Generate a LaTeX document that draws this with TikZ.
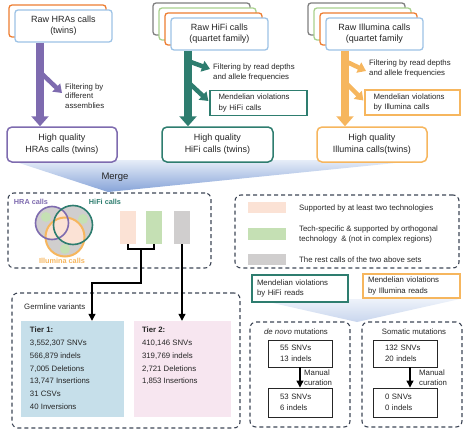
\documentclass[tikz,border=0pt]{standalone}
\usepackage{fontspec}
\setmainfont{Liberation Sans}
\usetikzlibrary{arrows.meta,calc}
\definecolor{cBlue}{HTML}{9DC3E6}
\definecolor{cOrange}{HTML}{ED7D31}
\definecolor{cGreen}{HTML}{A9D18E}
\definecolor{cGray}{HTML}{7F7F7F}
\definecolor{cPurple}{HTML}{7E6BAF}
\definecolor{cTeal}{HTML}{2E7D6F}
\definecolor{cLOrange}{HTML}{F6B65E}
\definecolor{cPeach}{HTML}{FBE2D5}
\definecolor{cLGreen}{HTML}{C5E0B4}
\definecolor{cLGray}{HTML}{D0CECE}
\definecolor{cTier1}{HTML}{C6DFEA}
\definecolor{cTier2}{HTML}{F7E6F0}
\definecolor{cDash}{HTML}{3E4656}
\definecolor{cMergeTop}{HTML}{E6EDF8}
\definecolor{cMergeBot}{HTML}{86A3D8}
\definecolor{cText}{HTML}{262626}
\newcommand\fsz[2]{\fontsize{#1}{#2}\selectfont}
\begin{document}
\begin{tikzpicture}[x=1pt,y=-1pt,
  every node/.style={text=cText},
  backbox/.style={draw=#1, line width=1.3pt, fill=white, rounded corners=3pt, minimum width=97pt, minimum height=32pt, inner sep=0pt},
  rawbox/.style={draw=cBlue, line width=1.3pt, fill=white, rounded corners=3pt, minimum width=97pt, minimum height=32pt, inner sep=0pt, align=center, font=\fsz{9}{10.5}},
  hqbox/.style={draw=#1, line width=1.5pt, fill=white, rounded corners=5pt, minimum width=110pt, minimum height=35pt, inner sep=0pt, align=center, font=\fsz{9}{12}},
  mvbox/.style={draw=#1, line width=1.2pt, fill=white, minimum height=25pt, inner ysep=0pt, align=left, font=\fsz{7.8}{10.5}},
  small/.style={font=\fsz{7.8}{10}, align=left, inner sep=0pt},
  trunk/.style={draw=#1, line width=8pt, -{Triangle[width=17pt,length=10pt]}},
  branch/.style={draw=#1, line width=4.5pt, -{Triangle[width=11pt,length=8pt]}},
  dbox/.style={draw=cDash, line width=1.1pt, dash pattern=on 4pt off 3pt, rounded corners=6pt, inner sep=0pt},
  bar/.style={minimum width=16pt, minimum height=33pt, inner sep=0pt},
  swatch/.style={minimum width=38pt, minimum height=11pt, inner sep=0pt},
  conn/.style={draw=black, line width=1.2pt},
  connarrow/.style={draw=black, line width=1.2pt, -{Triangle[width=7pt,length=7pt]}},
  mbox/.style={draw=cText, line width=0.9pt, fill=white, minimum width=64pt, minimum height=27pt, inner xsep=12pt, text width=40pt, align=left, font=\fsz{7.8}{10.5}},
  venlab/.style={font=\fsz{7.3}{8}\bfseries, inner sep=0pt}
]
\useasboundingbox (0,0) rectangle (469,434);

% ---- merge funnel ----
\shade[top color=cMergeTop, bottom color=cMergeBot] (10,160) -- (425,160) -- (108,192) -- cycle;
\node[font=\fsz{9.5}{11}, inner sep=0pt] (merge) at (115,177) {Merge};

% ---- HRA column ----
\node[backbox=cOrange] (hraB1) at (57.5,21) {};
\node[rawbox] (hraRaw) at (63.5,26) {\raisebox{-1.5pt}{\begin{tabular}{@{}c@{}}Raw HRAs calls\\(twins)\end{tabular}}};
\node[hqbox=cPurple] (hraHQ) at (62,144.5) {High quality\\HRAs calls (twins)};
\draw[trunk=cPurple] (hraRaw.south -| 40,0) -- (hraHQ.north -| 40,0);
\coordinate (hraBr) at (40,72);
\coordinate (hraBrEnd) at (62,93);
\draw[branch=cPurple] (hraBr) -- (hraBrEnd);
\node[small, anchor=west, font=\fsz{7.8}{9.5}] (hraFilt) at (65,96) {Filtering by\\different\\assemblies};

% ---- HiFi column ----
\node[backbox=cGray] (hifiB3) at (201.5,19) {};
\node[backbox=cGreen] (hifiB2) at (207.5,24) {};
\node[backbox=cOrange] (hifiB1) at (213.5,29) {};
\node[rawbox] (hifiRaw) at (219.5,34) {\raisebox{-2.5pt}{\begin{tabular}{@{}c@{}}Raw HiFi calls\\(quartet family)\end{tabular}}};
\node[hqbox=cTeal, minimum width=111pt] (hifiHQ) at (217.5,144.5) {High quality\\HiFi calls (twins)};
\node[mvbox=cTeal, minimum width=97pt, text width=80pt, inner xsep=8.5pt] (mvHiFi) at (258.5,103) {Mendelian violations\\by HiFi calls};
\draw[trunk=cTeal] (hifiRaw.south -| 188,0) -- (hifiHQ.north -| 188,0);
\coordinate (hifiBr1) at (188,61);
\coordinate (hifiBr1End) at (210,69);
\coordinate (hifiBr2) at (188,82);
\draw[branch=cTeal] (hifiBr1) -- (hifiBr1End);
\draw[branch=cTeal] (hifiBr2) -- ($(mvHiFi.west)+(-1,-2)$);
\node[small, anchor=west] (hifiFilt) at (213,72) {Filtering by read depths\\and allele frequencies};

% ---- Illumina column ----
\node[backbox=cGray] (illB3) at (356.5,19) {};
\node[backbox=cGreen] (illB2) at (362.5,24) {};
\node[backbox=cOrange] (illB1) at (368.5,29) {};
\node[rawbox] (illRaw) at (374.5,34) {\raisebox{-2.5pt}{\begin{tabular}{@{}c@{}}Raw Illumina calls\\(quartet family\end{tabular}}};
\node[hqbox=cLOrange] (illHQ) at (372,144.5) {High quality\\Illumina calls(twins)};
\node[mvbox=cLOrange, minimum width=95pt, text width=78pt, inner xsep=8.5pt] (mvIll) at (412.5,102.5) {Mendelian violations\\by Illumina calls};
\draw[trunk=cLOrange] (illRaw.south -| 345,0) -- (illHQ.north -| 345,0);
\coordinate (illBr1) at (345,61);
\coordinate (illBr1End) at (366,71);
\coordinate (illBr2) at (345,82);
\draw[branch=cLOrange] (illBr1) -- (illBr1End);
\draw[branch=cLOrange] (illBr2) -- ($(mvIll.west)+(-1,-2)$);
\node[small, anchor=west] (illFilt) at (369,68) {Filtering by read depths\\and allele frequencies};

% ---- Venn box ----
\node[dbox, minimum width=203pt, minimum height=75pt] (venBox) at (109.5,230.5) {};
\fill[cLGray] (52,223) circle (16.5);
\fill[cLGray] (73,225) circle (19.5);
\fill[cLGray] (65,237) circle (19.5);
\begin{scope}
  \clip (52,223) circle (16.5);
  \fill[cPeach] (73,225) circle (19.5);
  \fill[cPeach] (65,237) circle (19.5);
\end{scope}
\begin{scope}
  \clip (73,225) circle (19.5);
  \fill[cPeach] (65,237) circle (19.5);
\end{scope}
\fill[cLGreen] (46,217) circle (5);
\fill[cLGreen] (83,219) circle (5);
\fill[cLGreen] (65,249) circle (5);
\draw[cLOrange, line width=2pt] (65,237) circle (19.5);
\draw[cPurple, line width=1.6pt] (52,223) circle (16.5);
\draw[cTeal, line width=1.6pt] (73,225) circle (19.5);
\node[venlab, text=cPurple] (hraLab) at (31,202) {HRA calls};
\node[venlab, text=cTeal] (hifiLab) at (105,202) {HiFi calls};
\node[venlab, text=cLOrange] (illLab) at (62,261) {Illumina calls};

\node[bar, fill=cPeach] (peachBar) at (128,227.5) {};
\node[bar, fill=cLGreen] (greenBar) at (154,227.5) {};
\node[bar, fill=cLGray] (grayBar) at (182,227.5) {};

% ---- legend box ----
\node[dbox, minimum width=224pt, minimum height=73pt] (legBox) at (347,231.5) {};
\node[swatch, fill=cPeach] (legPeach) at (267,207.5) {};
\node[swatch, fill=cLGreen, minimum height=12pt] (legGreen) at (267,234) {};
\node[swatch, fill=cLGray] (legGray) at (267,259.5) {};
\node[small, anchor=west] (legT1) at (299,208) {Supported by at least two technologies};
\node[small, anchor=west] (legT2) at (299,234) {Tech-specific \& supported by orthogonal\\technology\ \ \& (not in complex regions)};
\node[small, anchor=west] (legT3) at (299,260) {The rest calls of the two above sets};

% ---- germline box ----
\node[dbox, minimum width=228pt, minimum height=135pt] (germBox) at (126,360.5) {};
\node[small, anchor=west] (germLab) at (24,307) {Germline variants};
\node[fill=cTier1, minimum width=103pt, minimum height=96pt, inner sep=0pt] (tier1) at (72.5,369) {};
\node[fill=cTier2, minimum width=97pt, minimum height=96pt, inner sep=0pt] (tier2) at (182.5,369) {};
\node[anchor=north west, align=left, inner sep=0pt, font=\fsz{7.8}{12.8}] (tier1txt) at ($(tier1.north west)+(9,6)$)
  {\textbf{Tier 1:}\\3,552,307 SNVs\\566,879 indels\\7,005 Deletions\\13,747 Insertions\\31 CSVs\\40 Inversions};
\node[anchor=north west, align=left, inner sep=0pt, font=\fsz{7.8}{12.8}] (tier2txt) at ($(tier2.north west)+(8,6)$)
  {\textbf{Tier 2:}\\410,146 SNVs\\319,769 indels\\2,721 Deletions\\1,853 Insertions};

% ---- connectors from bars ----
\coordinate (brk) at (141,249);
\coordinate (t1in) at (92,283);
\draw[conn] (peachBar.south) -- (peachBar.south |- brk) -- (greenBar.south |- brk) -- (greenBar.south);
\draw[connarrow] (brk) |- (t1in) -- (t1in |- tier1.north);
\draw[connarrow] (grayBar.south) -- (grayBar.south |- tier2.north);

% ---- mutation funnel ----
\shade[top color=cMergeTop!70!white, bottom color=cMergeBot!45!white] (255,299) -- (460,299) -- (357,322) -- cycle;
\node[mvbox=cTeal, minimum width=96pt, minimum height=27pt, text width=86pt, inner xsep=5pt] (mvHiFiR) at (300,288.5) {Mendelian violations\\by HiFi reads};
\node[mvbox=cLOrange, minimum width=97pt, minimum height=24pt, text width=87pt, inner xsep=5pt] (mvIllR) at (411.5,286) {Mendelian violations\\by Illumina reads};

% ---- de novo box ----
\node[dbox, minimum width=100pt, minimum height=105pt] (dnBox) at (300,374.5) {};
\node[small, anchor=center] (dnLab) at (296,332) {\textit{de novo} mutations};
\node[mbox] (dn1) at (300,353.5) {55 SNVs\\13 indels};
\node[mbox, minimum height=29pt] (dn2) at (300,402.5) {53 SNVs\\6 indels};
\draw[connarrow] (dn1.south) -- (dn2.north);
\node[small, anchor=west] (dnCur) at (304,378) {Manual\\curation};

% ---- somatic box ----
\node[dbox, minimum width=100pt, minimum height=105pt] (somBox) at (412,374.5) {};
\node[small, anchor=center] (somLab) at (414,332) {Somatic mutations};
\node[mbox] (som1) at (405,353.5) {132 SNVs\\20 indels};
\node[mbox, minimum height=29pt] (som2) at (405,402.5) {0 SNVs\\0 indels};
\draw[connarrow] (som1.south -| 410,0) -- (som2.north -| 410,0);
\node[small, anchor=west] (somCur) at (419,378) {Manual\\curation};
\end{tikzpicture}
\end{document}
